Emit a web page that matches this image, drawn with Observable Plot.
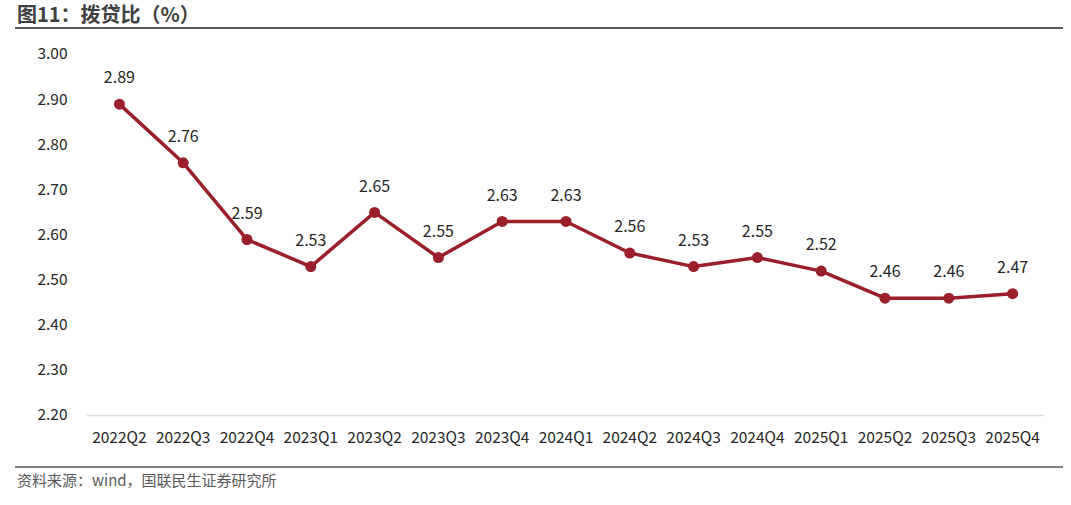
<!DOCTYPE html>
<html><head><meta charset="utf-8">
<script src="https://cdn.jsdelivr.net/npm/d3@7"></script>
<script src="https://cdn.jsdelivr.net/npm/@observablehq/plot@0.6"></script>
<style>
body{margin:0;background:#fff;font-family:"Noto Sans CJK SC","Noto Sans",sans-serif;}
#wrap{position:relative;width:1071px;height:505px;overflow:hidden;}
#title{position:absolute;left:17px;top:0px;font-size:20px;font-weight:bold;color:#404040;line-height:28px;}
#l1{position:absolute;left:15px;top:27px;width:1048px;height:2px;background:#595959;}
#chart{position:absolute;left:0;top:30px;}
#l2{position:absolute;left:15px;top:466px;width:1048px;height:2px;background:#7f7f7f;}
#src{position:absolute;left:17px;top:469px;font-size:15px;color:#595959;}
</style></head>
<body><div id="wrap">
<div id="title">图11：拨贷比（%）</div>
<div id="l1"></div>
<div id="chart"></div>
<div id="l2"></div>
<div id="src">资料来源：wind，国联民生证券研究所</div>
</div>
<script>
const quarters = ["2022Q2","2022Q3","2022Q4","2023Q1","2023Q2","2023Q3","2023Q4","2024Q1","2024Q2","2024Q3","2024Q4","2025Q1","2025Q2","2025Q3","2025Q4"];
const values = [2.89,2.76,2.59,2.53,2.65,2.55,2.63,2.63,2.56,2.53,2.55,2.52,2.46,2.46,2.47];
const yTicks = [2.2,2.3,2.4,2.5,2.6,2.7,2.8,2.9,3.0];
const data = quarters.map((q,i)=>({q, v: values[i]}));
const red = "#9a1f2a";
const chart = Plot.plot({
  width: 1071, height: 430,
  marginLeft: 87, marginRight: 27, marginTop: 24, marginBottom: 45,
  style: {fontFamily: '"Noto Sans CJK SC","Noto Sans",sans-serif', fontSize: "15px", color: "#262626", background: "#fff"},
  x: {type: "band", domain: quarters, padding: 0, round: false, label: null},
  y: {domain: [2.2, 3.0], ticks: yTicks, label: null},
  marks: [
    Plot.axisX({tickSize: 0, tickPadding: 16, fontSize: 15.5, fill: "#262626", label: null}),
    Plot.axisY({ticks: yTicks, tickSize: 0, tickPadding: 20, fontSize: 15.5, fill: "#262626", tickFormat: d3.format(".2f"), label: null}),
    Plot.ruleY([2.2], {stroke: "#d9d9d9", strokeWidth: 1.5}),
    Plot.line(data, {x: "q", y: "v", stroke: red, strokeWidth: 3.5}),
    Plot.dot(data, {x: "q", y: "v", fill: red, r: 5.5}),
    Plot.text(data, {x: "q", y: "v", text: d => d.v.toFixed(2), dy: -26, fontSize: 16, fill: "#262626"})
  ]
});
document.getElementById("chart").appendChild(chart);
</script>
</body></html>
